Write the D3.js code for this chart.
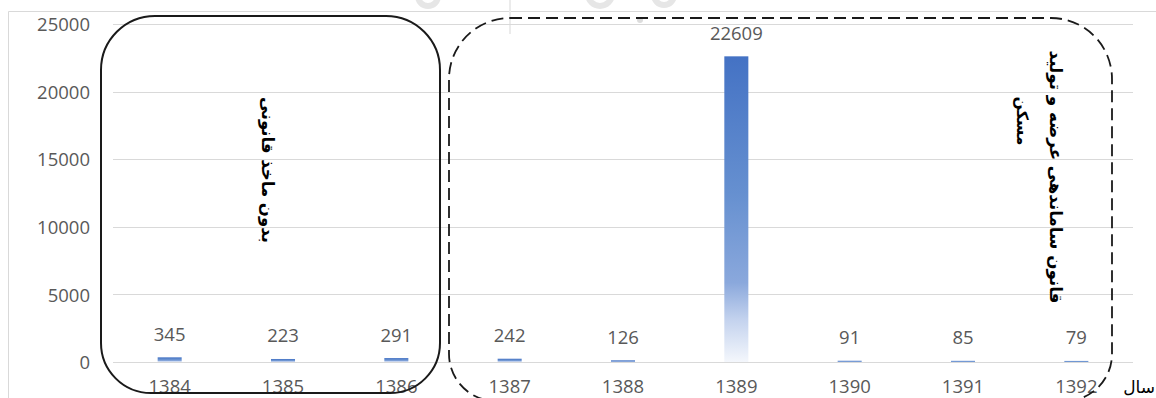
<!DOCTYPE html>
<html>
<head>
<meta charset="utf-8">
<script src="https://cdn.jsdelivr.net/npm/d3@7"></script>
<style>
  html, body { margin: 0; padding: 0; background: #fff; }
  svg { display: block; }
</style>
</head>
<body>
<svg id="chart" width="1156" height="398"></svg>
<script>
// ---- data ----
const categories = ["1384", "1385", "1386", "1387", "1388", "1389", "1390", "1391", "1392"];
const values = [345, 223, 291, 242, 126, 22609, 91, 85, 79];
const yTicks = [0, 5000, 10000, 15000, 20000, 25000];
const xAxisTitle = "سال";
const leftNote = "بدون ماخذ قانونی";
const rightNoteLines = ["قانون ساماندهی عرضه و تولید", "مسکن"];

// ---- layout ----
const W = 1156, H = 398;
const plot = { left: 113, right: 1133, top: 24, bottom: 362 };
const svg = d3.select("#chart");
const numFont = "'Open Sans', sans-serif";
const numSize = 18.5;

const x = d3.scaleBand().domain(categories).range([plot.left, plot.right])
  .paddingInner(0.788).paddingOuter(0.394);
const y = d3.scaleLinear().domain([0, 25000]).range([plot.bottom, plot.top]);

// gradient
const defs = svg.append("defs");
const grad = defs.append("linearGradient").attr("id", "barGrad")
  .attr("x1", 0).attr("y1", 0).attr("x2", 0).attr("y2", 1);
[[0, "#4472C4"], [0.45, "#6690d0"], [0.74, "#8aa8dc"], [0.86, "#c3d2ee"], [1, "#f4f7fc"]]
  .forEach(([o, c]) => grad.append("stop").attr("offset", o).attr("stop-color", c));

// outer chart border
svg.append("path").attr("d", `M8.5,${H + 2} V11.5 H${W + 2}`)
  .attr("fill", "none").attr("stroke", "#d9d9d9").attr("stroke-width", 1);

// faint watermark fragments
const wm = svg.append("g").attr("fill", "none").attr("stroke", "#e6e6e6").attr("stroke-width", 6);
wm.append("circle").attr("cx", 428).attr("cy", -4).attr("r", 10);
wm.append("circle").attr("cx", 600).attr("cy", -6).attr("r", 12);
wm.append("circle").attr("cx", 664).attr("cy", -5).attr("r", 10);
svg.append("line").attr("x1", 510).attr("x2", 510).attr("y1", 0).attr("y2", 34)
  .attr("stroke", "#ebebeb").attr("stroke-width", 2);
svg.append("circle").attr("cx", 640).attr("cy", 20).attr("r", 3).attr("fill", "#dcdcdc");

// gridlines
svg.append("g").selectAll("line").data(yTicks).join("line")
  .attr("x1", plot.left).attr("x2", plot.right)
  .attr("y1", d => Math.round(y(d)) + 0.5).attr("y2", d => Math.round(y(d)) + 0.5)
  .attr("stroke", "#d9d9d9").attr("stroke-width", 1);

// y axis
const yAxis = svg.append("g").attr("transform", "translate(90,0)")
  .call(d3.axisLeft(y).tickValues(yTicks).tickSize(0).tickPadding(0).tickFormat(d3.format("d")));
yAxis.select(".domain").remove();
yAxis.selectAll("text").attr("font-family", numFont).attr("font-size", numSize)
  .attr("fill", "#595959").attr("dy", "0.36em");

// x axis
const xAxis = svg.append("g").attr("transform", `translate(0,${plot.bottom})`)
  .call(d3.axisBottom(x).tickSize(0).tickPadding(0));
xAxis.select(".domain").remove();
xAxis.selectAll("text").attr("font-family", numFont).attr("font-size", numSize)
  .attr("fill", "#595959").attr("dy", "31px");

// bars
svg.append("g").selectAll("rect").data(values).join("rect")
  .attr("x", (d, i) => x(categories[i]))
  .attr("width", x.bandwidth())
  .attr("y", d => y(d))
  .attr("height", d => y(0) - y(d))
  .attr("fill", "url(#barGrad)");

// value labels
svg.append("g").selectAll("text").data(values).join("text")
  .attr("x", (d, i) => x(categories[i]) + x.bandwidth() / 2)
  .attr("y", d => y(d) - 16.5)
  .attr("text-anchor", "middle")
  .attr("font-family", numFont).attr("font-size", numSize)
  .attr("fill", "#595959")
  .text(d => d);

// x axis title
svg.append("text").attr("x", 1155).attr("y", 393).attr("text-anchor", "end")
  .attr("font-family", "'DejaVu Sans', sans-serif").attr("font-size", 17)
  .attr("fill", "#000").text(xAxisTitle);

// annotation boxes
function roundedPath(l, t, r, b, rt, rb) {
  return `M${l + rt},${t} H${r - rt} A${rt},${rt} 0 0 1 ${r},${t + rt} V${b - rb}` +
    ` A${rb},${rb} 0 0 1 ${r - rb},${b} H${l + rb} A${rb},${rb} 0 0 1 ${l},${b - rb}` +
    ` V${t + rt} A${rt},${rt} 0 0 1 ${l + rt},${t} Z`;
}
svg.append("path").attr("d", roundedPath(101, 16, 440, 393, 54, 50))
  .attr("fill", "none").attr("stroke", "#1a1a1a").attr("stroke-width", 2);
svg.append("path").attr("d", roundedPath(449, 18, 1112, 401, 61, 47))
  .attr("fill", "none").attr("stroke", "#1a1a1a").attr("stroke-width", 1.8)
  .attr("stroke-dasharray", "12,6");

// vertical notes
function vText(str, cx, cy, targetLen) {
  const t = svg.append("text")
    .attr("transform", `translate(${cx},${cy}) rotate(90)`)
    .attr("text-anchor", "middle").attr("dominant-baseline", "central")
    .attr("font-family", "'DejaVu Sans', sans-serif").attr("font-weight", "bold")
    .attr("font-size", 20).attr("fill", "#000").text(str);
  const len = t.node().getComputedTextLength();
  if (len > 0) t.attr("font-size", 20 * targetLen / len);
}
vText(leftNote, 267, 170, 146);
vText(rightNoteLines[0], 1055, 177, 253);
vText(rightNoteLines[1], 1022, 121, 49);
</script>
</body>
</html>
